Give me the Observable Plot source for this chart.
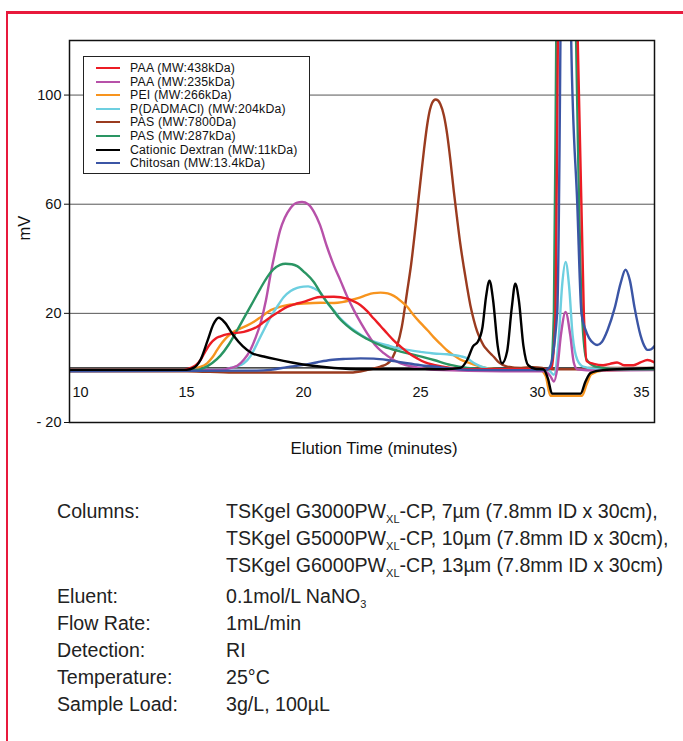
<!DOCTYPE html>
<html><head><meta charset="utf-8">
<script src="https://cdn.jsdelivr.net/npm/d3@7"></script>
<script src="https://cdn.jsdelivr.net/npm/@observablehq/plot@0.6"></script>
<style>
html,body{margin:0;padding:0;background:#fff}
body{width:683px;height:741px;overflow:hidden;position:relative}
#border{position:absolute;left:6px;top:11px;width:720px;height:800px;border-left:2px solid #e8193c;border-top:3px solid #e8193c;box-sizing:border-box}
#chart{position:absolute;left:0;top:0}
#legend{position:absolute;left:83px;top:56px;width:227px;height:118px;border:1.3px solid #222;background:#fff;box-sizing:border-box;font-family:"Liberation Sans",Arial,sans-serif;font-size:12.3px;letter-spacing:0.2px;color:#111}
.lrow{position:absolute;left:0;height:14px;line-height:14px;white-space:nowrap}
.lrow .sw{position:absolute;left:12px;top:6px;width:24px;height:2px}
.lrow .tx{position:absolute;left:46px;top:0}
#caption{position:absolute;left:0;top:0;font-family:"Liberation Sans",Arial,sans-serif;font-size:19.6px;color:#222}
.crow{position:absolute;height:27px;line-height:27px;white-space:nowrap}
sub{font-size:11px;vertical-align:baseline;position:relative;top:5px;line-height:0}
</style></head>
<body>
<div id="border"></div>
<div id="chart"></div>
<div id="legend"></div>
<div id="caption"></div>
<script>
// ---- data (elution time in minutes, signal in mV) ----
const seriesNames = ["PAA (MW:438kDa)","PAA (MW:235kDa)","PEI (MW:266kDa)","P(DADMACl) (MW:204kDa)","PAS (MW:7800Da)","PAS (MW:287kDa)","Cationic Dextran (MW:11kDa)","Chitosan (MW:13.4kDa)"];
const seriesColors = ["#ec1c24","#b751a9","#f7941e","#6dcfe0","#9a3b1f","#2a9563","#000000","#3b55a5"];
const xTicks = [10,15,20,25,30,35];
const yTicks = [-20,20,60,100];
const gridValues = [20,60,100];

const PAA438 = [[10,-0.7],[14.9,-0.7],[15.17,0],[15.4,1],[15.6,2.9],[15.8,6],[16.03,9],[16.25,10.8],[16.45,11.6],[16.88,12.6],[17.45,13.2],[17.75,14],[18.02,15.1],[18.3,16.8],[18.6,18.7],[18.95,20.6],[19.3,22.4],[19.65,23.4],[20.0,24.2],[20.4,25.4],[20.7,26],[21.3,26.1],[21.87,25.4],[22.15,24.4],[22.44,23],[22.72,20.8],[23.0,18.1],[23.3,15.3],[23.57,12.7],[23.85,10.1],[24.15,7.8],[24.5,5.4],[24.86,3.5],[25.2,2],[25.57,1.1],[26.28,0],[27,-0.5],[30.4,-0.5],[30.6,0],[30.77,20],[30.87,120],[31.3,400],[31.72,120],[31.98,20],[32.1,2.5],[32.4,1.5],[32.8,1],[33.1,1.5],[33.4,2],[33.7,1],[34.1,1],[34.4,2],[34.7,2.9],[35,2]];
const PAA235 = [[10,-0.7],[16.4,-0.7],[16.9,0],[17.17,0.8],[17.45,3],[17.73,6.6],[17.95,11],[18.16,16.3],[18.4,25],[18.6,34.6],[18.8,43],[19.0,50.4],[19.2,55],[19.44,58.5],[19.7,60.5],[19.94,60.8],[20.2,60],[20.44,57.3],[20.7,52.5],[21.0,44.5],[21.3,37.5],[21.58,32],[21.85,26.5],[22.15,21.2],[22.45,16.5],[22.72,12.7],[23.05,8.5],[23.43,5.4],[23.8,3.2],[24.15,1.7],[24.8,0.3],[25.6,-0.7],[28.5,-1.2],[30.3,-1.2],[30.55,-3],[30.7,-5],[30.85,0],[31.0,12],[31.2,20.5],[31.4,12],[31.55,2],[31.7,-0.5],[32.5,-1],[35,-0.8]];
const PEI266 = [[10,-0.7],[15.2,-0.7],[15.45,0],[15.88,1.7],[16.1,3.8],[16.31,6.6],[16.52,9.2],[16.74,11.4],[17.0,13.2],[17.31,14.5],[17.6,15.6],[17.88,16.9],[18.2,18.8],[18.6,21.2],[18.95,22.3],[19.3,23],[20.0,23.6],[20.73,23.9],[21.3,23.8],[21.65,24.1],[22.0,24.8],[22.4,25.8],[22.72,26.8],[23.0,27.4],[23.29,27.6],[23.6,27.3],[23.86,26.4],[24.15,24.6],[24.43,22.4],[24.7,19.4],[25.0,16.5],[25.3,13.8],[25.57,11.2],[25.85,8.8],[26.14,6.4],[26.42,4.6],[26.7,3.1],[27.14,1.7],[27.56,0.5],[28.2,-0.4],[30.1,-0.7],[30.35,-3],[30.55,-10.2],[31.9,-10.2],[32.1,-6],[32.3,-2.3],[32.8,-1],[35,-0.5]];
const PDADMAC = [[10,-0.7],[16.6,-0.7],[16.88,0],[17.15,0.6],[17.45,1.7],[17.75,4.5],[18.02,9],[18.3,13.8],[18.6,18.7],[18.9,22.8],[19.16,26],[19.45,28.2],[19.73,29.3],[20.0,29.8],[20.2,29.9],[20.44,29.2],[20.73,27.5],[21.0,24],[21.3,21],[21.58,18.1],[21.87,15.8],[22.15,13.9],[22.72,10.8],[23.15,9.3],[23.57,8.3],[24.0,7.3],[24.43,6.6],[25.0,5.9],[25.57,5.3],[26.14,5],[26.7,4.3],[27.0,3.5],[27.28,1.8],[27.6,0.5],[28.13,-0.5],[30.3,-0.5],[30.5,-1],[30.7,-2.5],[30.9,10],[31.05,30],[31.2,38.8],[31.35,30],[31.5,12],[31.7,3],[31.95,0.5],[32.5,-0.3],[35,-0.3]];
const PAS7800 = [[10,-1.2],[15,-1.2],[17,-1.7],[22.0,-1.7],[22.7,-0.8],[23.29,0.5],[23.57,1.5],[23.75,3],[24.0,8],[24.2,15],[24.43,28],[24.6,38],[24.79,52],[25.0,68.6],[25.15,80],[25.29,89.3],[25.4,94.5],[25.5,97.2],[25.64,98.4],[25.75,98],[25.85,96.6],[26.0,92.5],[26.14,85.6],[26.28,76],[26.42,65],[26.56,55],[26.7,45.5],[26.85,37],[26.99,29.7],[27.13,23],[27.28,17.5],[27.42,13.4],[27.56,10.5],[27.7,8.2],[27.85,6.6],[28.0,5.2],[28.13,4.1],[28.35,2],[28.7,0.5],[29.3,0],[29.8,0.3],[30.2,0],[30.4,-0.5],[31.9,-0.5],[32.2,0],[35,0]];
const PAS287 = [[10,-0.7],[15.5,-0.7],[15.74,0],[16.1,1.8],[16.45,4.5],[16.8,8.5],[17.17,13.9],[17.5,19],[17.88,24.8],[18.15,29],[18.45,33.3],[18.7,36],[19.0,37.8],[19.23,38.2],[19.5,38],[19.73,37.3],[20.05,35],[20.44,31.5],[20.8,26.5],[21.15,22.5],[21.5,18.5],[22.0,14.5],[22.72,10.6],[23.43,7.8],[24.15,6],[24.86,4.5],[25.57,2.9],[26.28,1.1],[27.0,0],[28,-0.5],[30.4,-0.5],[30.56,0],[30.7,20],[30.8,120],[31.2,400],[31.65,120],[31.9,20],[32.1,3],[32.5,0.5],[33.5,-0.5],[35,-0.5]];
const DEXTRAN = [[10,-0.7],[15,-0.7],[15.3,0],[15.6,3],[15.9,10],[16.15,16],[16.38,18.4],[16.65,16.5],[17.0,12],[17.4,8],[17.8,5.4],[18.3,4.2],[18.8,3.2],[19.5,2],[20.3,0.9],[21.3,0],[22.5,-0.5],[26.0,-0.5],[26.7,0],[27.0,3],[27.25,8],[27.45,9.6],[27.65,15],[27.8,26],[27.95,32],[28.1,25],[28.3,8],[28.49,1.7],[28.7,6],[28.9,22],[29.05,30.9],[29.2,25],[29.4,8],[29.6,1],[29.9,-0.3],[30.25,-0.5],[30.45,-4],[30.62,-9.4],[31.84,-9.4],[32.05,-5],[32.27,-1.8],[32.8,-0.8],[34,-0.3],[35,0]];
const CHITOSAN = [[10,-1.2],[18,-1],[18.6,-0.7],[19.3,0.3],[20.0,1.1],[20.6,2.1],[21.15,2.9],[21.8,3.3],[22.44,3.5],[23.0,3.4],[23.57,2.9],[24.0,2.3],[24.43,1.7],[25.0,1],[25.57,0.5],[26.3,-0.2],[27.0,-0.7],[28.5,-0.8],[30.3,-0.8],[30.5,0],[30.84,20],[30.98,120],[31.2,500],[31.44,120],[31.7,60],[31.88,20],[32.05,14],[32.2,11],[32.4,9],[32.55,8.4],[32.75,9.5],[33.0,14],[33.3,22],[33.55,31],[33.76,36],[33.95,32],[34.15,22],[34.4,12],[34.6,7.5],[34.69,6.6],[34.85,6.8],[35,8]];

const seriesData = [PAA438, PAA235, PEI266, PDADMAC, PAS7800, PAS287, DEXTRAN, CHITOSAN];
const drawOrder = [4, 2, 3, 1, 5, 0, 7, 6];

const font = '"Liberation Sans",Arial,sans-serif';

const lineMarks = drawOrder.map(i => Plot.line(seriesData[i], {
  x: d => d[0], y: d => d[1], stroke: seriesColors[i], strokeWidth: 2.4,
  curve: "monotone-x", clip: true
}));

const chart = Plot.plot({
  width: 683, height: 470,
  marginLeft: 69, marginRight: 29, marginTop: 40, marginBottom: 48,
  style: {fontFamily: font, fontSize: "14.5px", background: "transparent", color: "#111"},
  x: {domain: [10, 35], axis: null},
  y: {domain: [-20, 120], axis: null},
  marks: [
    Plot.gridY(gridValues, {stroke: "#555", strokeOpacity: 1, strokeWidth: 1}),
    Plot.ruleY([0], {stroke: "#111", strokeWidth: 1.2}),
    Plot.axisY(yTicks, {tickSize: 5, tickPadding: 3, fontSize: 14.5, tickFormat: d => d < 0 ? "- " + Math.abs(d) : String(d), label: null, stroke: "#111"}),
    Plot.text(xTicks.filter(t => t === xTicks[0]), {x: d => d, y: -8.8, text: d => String(d), textAnchor: "start", dx: 3, fontSize: 14.5, fill: "#111"}),
    Plot.text(xTicks.filter(t => t !== xTicks[0] && t !== xTicks[xTicks.length-1]), {x: d => d, y: -8.8, text: d => String(d), fontSize: 14.5, fill: "#111"}),
    Plot.text(xTicks.filter(t => t === xTicks[xTicks.length-1]), {x: d => d, y: -8.8, text: d => String(d), textAnchor: "end", dx: -5, fontSize: 14.5, fill: "#111"}),
    ...lineMarks,
    Plot.frame({stroke: "#111", strokeWidth: 1.5}),
    Plot.text(["Elution Time (minutes)"], {frameAnchor: "bottom", dx: 12, dy: 31, fontSize: 16.8, fill: "#111"}),
    Plot.text(["mV"], {frameAnchor: "left", rotate: -90, dx: -45, dy: 9, fontSize: 16.5, fill: "#111"})
  ]
});
document.getElementById("chart").appendChild(chart);

// legend
const legend = document.getElementById("legend");
seriesNames.forEach((name, i) => {
  const row = document.createElement("div");
  row.className = "lrow";
  row.style.top = (4 + i * 13.6) + "px";
  row.innerHTML = `<div class="sw" style="background:${seriesColors[i]}"></div><div class="tx"></div>`;
  row.querySelector(".tx").textContent = name;
  legend.appendChild(row);
});

// caption
const capLabels = ["Columns:", "", "", "Eluent:", "Flow Rate:", "Detection:", "Temperature:", "Sample Load:"];
const capValues = [
  'TSKgel G3000PW<sub>XL</sub>-CP, 7µm (7.8mm ID x 30cm),',
  'TSKgel G5000PW<sub>XL</sub>-CP, 10µm (7.8mm ID x 30cm),',
  'TSKgel G6000PW<sub>XL</sub>-CP, 13µm (7.8mm ID x 30cm)',
  '0.1mol/L NaNO<sub>3</sub>',
  '1mL/min',
  'RI',
  '25°C',
  '3g/L, 100µL'
];
const capY = [512, 539, 566, 597, 624, 651, 678, 705];
const cap = document.getElementById("caption");
capLabels.forEach((lab, i) => {
  const a = document.createElement("div");
  a.className = "crow"; a.style.left = "57px"; a.style.top = (capY[i] - 14) + "px";
  a.textContent = lab; cap.appendChild(a);
  const b = document.createElement("div");
  b.className = "crow"; b.style.left = "226px"; b.style.top = (capY[i] - 14) + "px";
  b.innerHTML = capValues[i]; cap.appendChild(b);
});
</script>
</body></html>
